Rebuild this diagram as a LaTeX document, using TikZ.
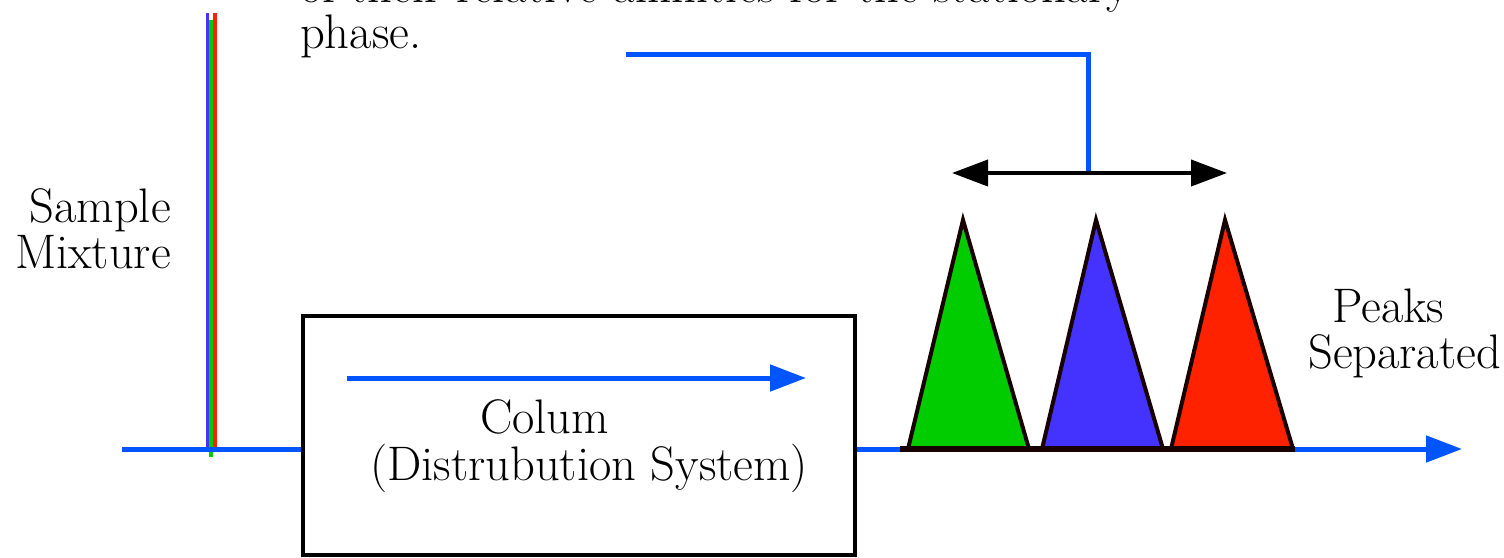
\documentclass[tikz,border=0pt]{standalone}
\usetikzlibrary{arrows.meta, positioning}
\definecolor{flowblue}{RGB}{0,85,255}
\definecolor{peakgreen}{RGB}{0,204,0}
\definecolor{peakblue}{RGB}{68,51,255}
\definecolor{peakred}{RGB}{255,34,0}

\begin{document}
\begin{tikzpicture}[x=1pt, y=-1pt,
  every node/.style={inner sep=0pt, font=\fontsize{48.5}{47}\selectfont},
  flow/.style={draw=flowblue, line width=5pt},
  peak/.style={draw=black!90!red, line width=4pt}]
\clip (0,0) rectangle (1504,557);
\node[anchor=base west] (note1) at (300,2) {of their relative affinities for the stationary};
\node[anchor=base west] (note2) at (300,48) {phase.};
\node[anchor=base east] (sample) at (171,222) {Sample};
\node[anchor=base east] (mixture) at (171,268) {Mixture};
\node[draw, line width=4pt, minimum width=552pt, minimum height=239pt] (colbox) at (579,435.5) {};
\node[anchor=base west] (colum) at (480,433) {Colum};
\node[anchor=base west] (colsys) at (370,480) {(Distrubution System)};
\node[anchor=base west] (peaks) at (1332,322) {Peaks};
\node[anchor=base west] (separated) at (1308,368) {Separated};
\coordinate (inlet) at (122,449);
\coordinate (base0) at (900,449);
\coordinate (base1) at (1295,449);
\coordinate (outlet) at (1462,449);
\coordinate (notelink) at (626,54);
\coordinate (spanl) at (952,173);
\coordinate (spanr) at (1227,173);
\coordinate (spanmid) at (1088,173);
% injected sample
\draw[line width=3.5pt, peakblue] (207.5,13) -- (207.5,449);
\draw[line width=3.5pt, peakgreen] (211,20) -- (211,457);
\draw[line width=3.5pt, peakred] (215,13) -- (215,449);
% flow through the column
\draw[flow] (inlet) -- (inlet -| colbox.west);
\draw[flow, -{Triangle[length=36pt, width=26pt]}] (347,378) -- (806,378);
\draw[flow] (colbox.east |- inlet) -- (base0);
\foreach \c/\a/\l/\r in {peakgreen/963/908/1029, peakblue/1096/1042/1163, peakred/1225/1171/1293}
  \filldraw[peak, fill=\c] (\l,449) -- (\a,220) -- (\r,449);
\draw[line width=6pt, black!90!red] (base0) -- (base1);
\draw[flow, -{Triangle[length=36pt, width=26pt]}] (base1) -- (outlet);
% separation
\draw[flow] (notelink) -| (spanmid);
\draw[line width=4pt, {Triangle[length=36pt, width=26pt]}-{Triangle[length=36pt, width=26pt]}] (spanl) -- (spanr);
\end{tikzpicture}
\end{document}
